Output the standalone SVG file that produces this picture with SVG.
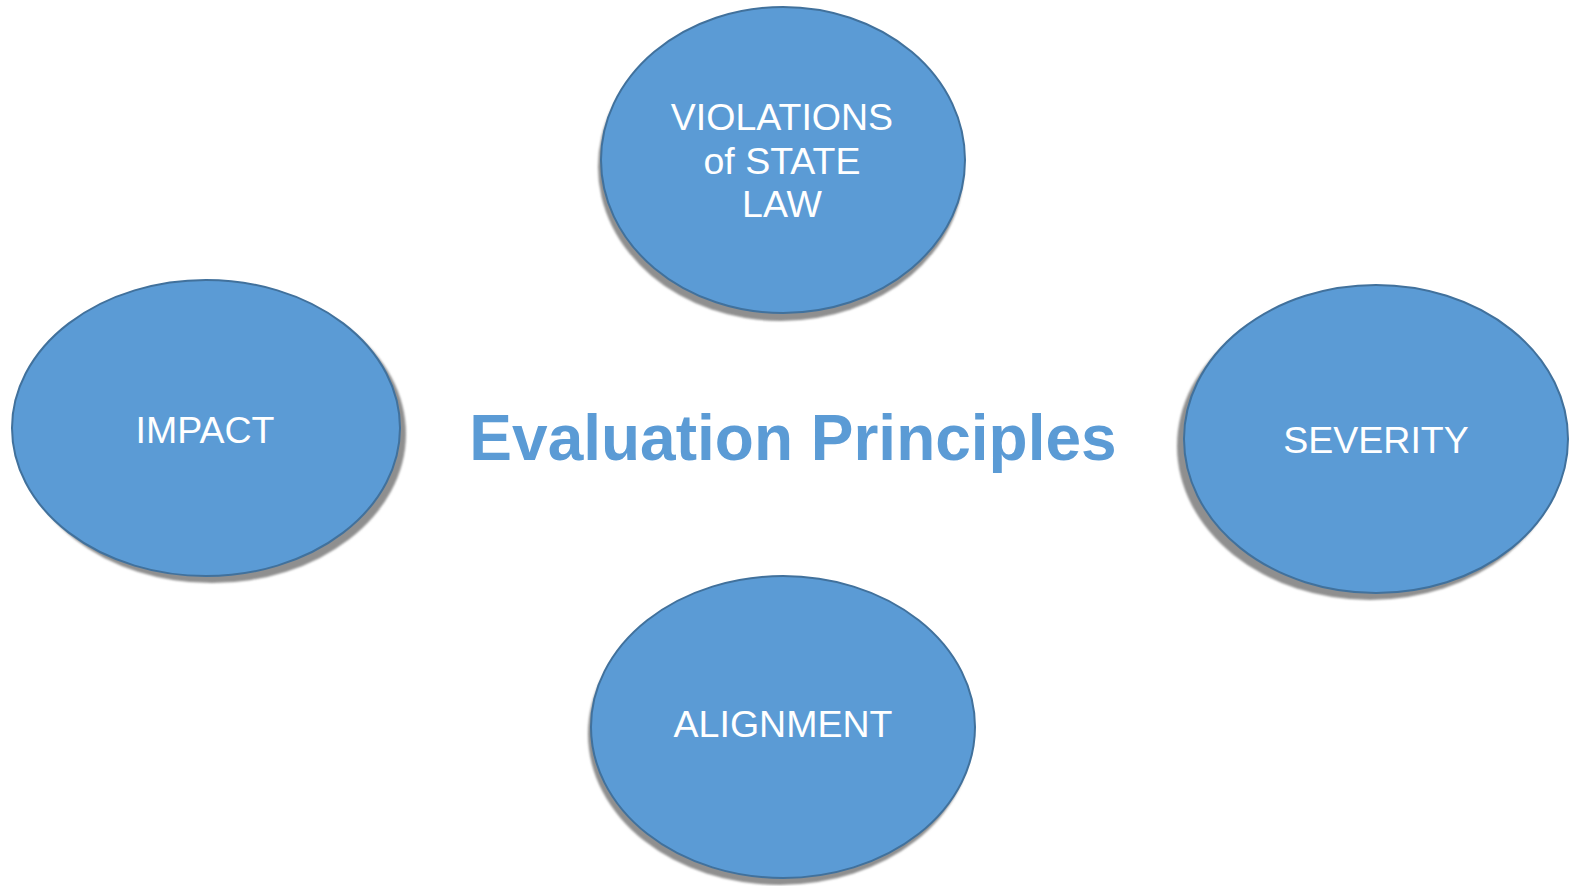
<svg xmlns="http://www.w3.org/2000/svg" width="1570" height="886" viewBox="0 0 1570 886">
<defs>
<filter id="blur" x="-10%" y="-10%" width="120%" height="120%"><feGaussianBlur stdDeviation="1"/></filter>
</defs>
<style>
.shadow{fill:#8f8f8f;filter:url(#blur)}
.node{fill:#5B9BD5;stroke:#41719C;stroke-width:2}
.lbl{fill:#ffffff;font-family:"Liberation Sans",Arial,sans-serif;font-size:37.5px;text-anchor:middle}
.title{fill:#5B9BD5;font-family:"Liberation Sans",Arial,sans-serif;font-size:64px;font-weight:bold;text-anchor:middle}
</style>
<rect width="1570" height="886" fill="#ffffff"/>
<g id="connectors"></g>
<g id="node-violations">
<ellipse class="shadow" cx="781" cy="167" rx="183" ry="154"/>
<ellipse class="node" cx="783" cy="160" rx="182" ry="153"/>
<text class="lbl" x="782" y="130">VIOLATIONS</text>
<text class="lbl" x="782" y="174">of STATE</text>
<text class="lbl" x="782" y="217">LAW</text>
</g>
<g id="node-impact">
<ellipse class="shadow" cx="212" cy="434" rx="194" ry="149"/>
<ellipse class="node" cx="206" cy="428" rx="194" ry="148"/>
<text class="lbl" x="205" y="443">IMPACT</text>
</g>
<g id="node-severity">
<ellipse class="shadow" cx="1370" cy="446" rx="193" ry="154"/>
<ellipse class="node" cx="1376" cy="439" rx="192" ry="154"/>
<text class="lbl" x="1376" y="453">SEVERITY</text>
</g>
<g id="node-alignment">
<ellipse class="shadow" cx="780" cy="734" rx="192" ry="151"/>
<ellipse class="node" cx="783" cy="727" rx="192" ry="151"/>
<text class="lbl" x="783" y="737">ALIGNMENT</text>
</g>
<g id="title">
<text class="title" x="793" y="460">Evaluation Principles</text>
</g>
</svg>
